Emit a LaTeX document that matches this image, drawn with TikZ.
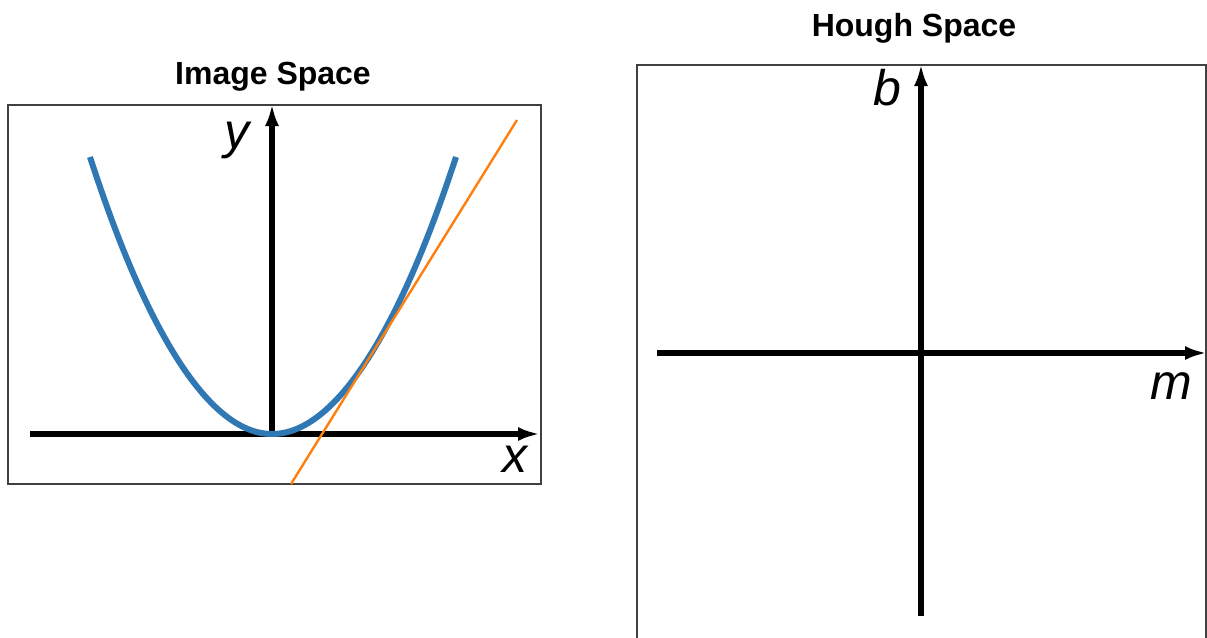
\documentclass[tikz,border=0pt]{standalone}
\usepackage{fontspec}
\setmainfont{Liberation Sans}
\usepackage{tikz}
\usetikzlibrary{arrows.meta,positioning}

\definecolor{curveblue}{HTML}{2F78B4}
\definecolor{tangentorange}{HTML}{FF7F0E}

\begin{document}
\begin{tikzpicture}[x=1pt,y=-1pt,
panel/.style={draw=black!75,line width=1.3pt},
axis/.style={line width=6pt,-{Latex[length=22pt,width=14pt]}},
title/.style={anchor=base,font=\fontsize{32}{38}\selectfont\bfseries,inner sep=0pt},
axis label/.style={anchor=base,font=\fontsize{50}{60}\selectfont\itshape,inner sep=0pt},
curve/.style={draw=curveblue,line width=6pt},
tangent/.style={draw=tangentorange,line width=2.4pt}]
\useasboundingbox (0,0) rectangle (1207,637);
% image space
\node[title] (imgtitle) at (273,84) {Image Space};
\draw[panel] (8,105) rectangle (541,484);
\coordinate (ix0) at (30,434);
\coordinate (ix1) at (540,434);
\coordinate (iy0) at (272,434);
\coordinate (iy1) at (272,104);
\draw[axis] (ix0) -- (ix1);
\draw[axis] (iy0) -- (iy1);
\draw[curve] (90,157) parabola bend (272,434) (456,157);
\coordinate (t0) at (291,484);
\coordinate (t1) at (517,120);
\draw[tangent] (t0) -- (t1);
\node[axis label] (ylab) at (237,148) {y};
\node[axis label] (xlab) at (515,472) {x};
% hough space
\node[title] (houghtitle) at (914,36) {Hough Space};
\draw[panel] (637,640) -- (637,65) -- (1206,65) -- (1206,640);
\coordinate (hm0) at (657,353);
\coordinate (hm1) at (1207,353);
\coordinate (hb0) at (921,616);
\coordinate (hb1) at (921,64);
\draw[axis] (hm0) -- (hm1);
\draw[axis] (hb0) -- (hb1);
\node[axis label] (blab) at (887,105) {b};
\node[axis label] (mlab) at (1171,399) {m};
\end{tikzpicture}
\end{document}
